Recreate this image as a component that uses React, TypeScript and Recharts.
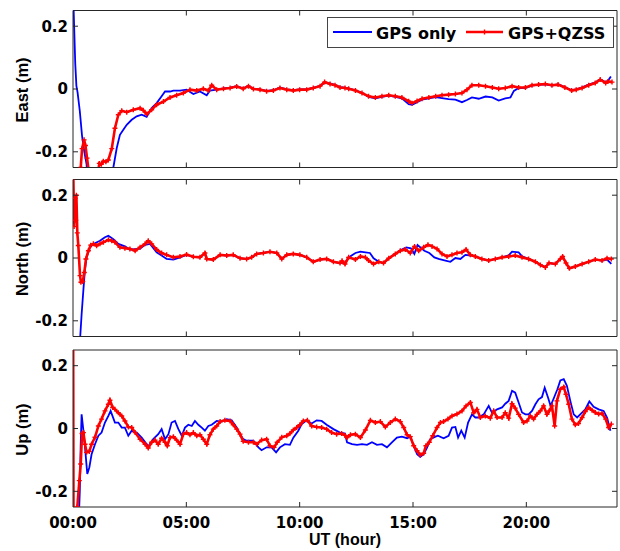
import { Legend, Line, LineChart, ReferenceLine, XAxis, YAxis } from "recharts";

// hours (UT) and displacement in metres
const eastGps: [number, number][] = [
  [0, 0.32], [0.05, 0.2], [0.1, 0.08], [0.15, 0.01], [0.2, -0.01], [0.3, -0.07], [0.4, -0.15],
  [0.5, -0.2], [0.6, -0.24], [0.7, -0.4], [1.5, -0.4], [1.7, -0.3], [1.78, -0.25], [1.93, -0.188],
  [2.07, -0.146], [2.22, -0.13], [2.37, -0.114], [2.59, -0.098], [2.81, -0.087], [3.03, -0.082],
  [3.25, -0.089], [3.47, -0.061], [3.69, -0.045], [3.91, -0.023], [4.06, -0.008], [4.28, -0.008],
  [4.43, -0.005], [4.72, -0.005], [5.01, -0.002], [5.31, -0.016], [5.6, -0.008], [5.9, -0.02],
  [6.04, -0.005], [6.34, -0.002], [6.64, 0.002], [6.93, 0.004], [7.22, 0.009], [7.51, 0.002],
  [7.74, 0.01], [7.96, 0.001], [8.25, -0.001], [8.54, -0.006], [8.84, -0.004], [9.13, 0.005],
  [9.43, -0.001], [9.72, -0.004], [10.0, -0.001], [10.31, -0.001], [10.6, 0.004], [10.9, 0.01],
  [11.1, 0.02], [11.34, 0.018], [11.56, 0.013], [11.78, 0.006], [12.0, 0.004], [12.16, 0.002],
  [12.46, -0.004], [12.75, -0.012], [13.04, -0.025], [13.34, -0.03], [13.63, -0.025], [13.93, -0.021],
  [14.22, -0.025], [14.51, -0.03], [14.81, -0.048], [14.96, -0.05], [15.18, -0.042], [15.4, -0.034],
  [15.7, -0.03], [16.0, -0.026], [16.28, -0.029], [16.57, -0.032], [16.87, -0.034], [17.16, -0.042],
  [17.38, -0.035], [17.6, -0.027], [17.9, -0.031], [18.2, -0.024], [18.5, -0.027], [18.78, -0.037],
  [19.07, -0.03], [19.3, -0.027], [19.45, -0.006], [19.66, 0.003], [19.96, 0.004], [20.25, 0.011],
  [20.54, 0.014], [20.84, 0.015], [21.13, 0.011], [21.4, 0.015], [21.7, 0.006], [22.0, -0.004],
  [22.2, -0.001], [22.46, 0.005], [22.75, 0.014], [23.04, 0.021], [23.26, 0.03], [23.5, 0.022],
  [23.6, 0.026], [23.73, 0.04],
];

const eastQzss: [number, number][] = [
  [0, -0.5], [0.25, -0.3], [0.34, -0.25], [0.4, -0.19], [0.49, -0.162], [0.55, -0.18], [0.62, -0.22],
  [0.69, -0.26], [0.8, -0.4], [1.0, -0.4], [1.1, -0.27], [1.16, -0.237], [1.25, -0.24], [1.34, -0.23],
  [1.45, -0.232], [1.56, -0.226], [1.71, -0.19], [1.85, -0.125], [2.0, -0.082], [2.15, -0.069],
  [2.37, -0.074], [2.66, -0.066], [2.96, -0.061], [3.1, -0.068], [3.25, -0.08], [3.47, -0.066],
  [3.69, -0.05], [3.99, -0.04], [4.28, -0.027], [4.57, -0.02], [4.87, -0.013], [5.16, -0.002],
  [5.46, -0.005], [5.75, 0.001], [5.97, -0.005], [6.12, 0.012], [6.34, -0.002], [6.64, 0.001],
  [6.93, 0.003], [7.22, 0.008], [7.51, 0.001], [7.74, 0.009], [7.96, 0.0], [8.25, -0.002],
  [8.54, -0.007], [8.84, -0.005], [9.13, 0.003], [9.43, -0.002], [9.72, -0.005], [10.0, -0.002],
  [10.31, -0.002], [10.6, 0.003], [10.9, 0.009], [11.1, 0.022], [11.34, 0.016], [11.56, 0.012],
  [11.78, 0.005], [12.0, 0.003], [12.16, 0.001], [12.46, -0.005], [12.75, -0.013], [13.04, -0.023],
  [13.34, -0.027], [13.63, -0.023], [13.93, -0.02], [14.22, -0.023], [14.51, -0.027], [14.81, -0.039],
  [14.96, -0.045], [15.18, -0.038], [15.4, -0.031], [15.7, -0.027], [16.0, -0.023], [16.28, -0.02],
  [16.57, -0.018], [16.87, -0.016], [17.16, -0.013], [17.38, -0.002], [17.6, 0.012], [17.9, 0.012],
  [18.2, 0.009], [18.5, 0.005], [18.78, 0.001], [19.07, 0.003], [19.37, 0.009], [19.66, 0.005],
  [19.96, 0.005], [20.25, 0.012], [20.54, 0.014], [20.84, 0.016], [21.13, 0.012], [21.4, 0.014],
  [21.7, 0.005], [22.0, -0.005], [22.2, -0.002], [22.46, 0.003], [22.75, 0.012], [23.04, 0.019],
  [23.26, 0.03], [23.5, 0.019], [23.6, 0.024], [23.78, 0.022],
];

const northGps: [number, number][] = [
  [0, -0.6], [0.25, -0.4], [0.31, -0.26], [0.38, -0.18], [0.46, -0.1], [0.53, -0.035], [0.6, 0.002],
  [0.75, 0.034], [0.9, 0.045], [1.19, 0.055], [1.41, 0.066], [1.56, 0.071], [1.78, 0.06], [2.0, 0.045],
  [2.29, 0.037], [2.51, 0.027], [2.96, 0.03], [3.18, 0.042], [3.4, 0.045], [3.69, 0.018], [3.91, 0.008],
  [4.13, -0.003], [4.43, -0.005], [4.72, 0.002], [5.01, 0.01], [5.31, 0.004], [5.6, 0.002],
  [5.82, 0.016], [5.9, -0.003], [6.19, -0.005], [6.49, 0.01], [6.78, 0.008], [7.07, 0.01],
  [7.37, -0.001], [7.66, -0.003], [7.88, 0.002], [8.1, 0.013], [8.4, 0.016], [8.69, 0.02],
  [8.99, 0.016], [9.21, -0.003], [9.43, 0.01], [9.72, 0.013], [10.01, 0.01], [10.31, 0.002],
  [10.6, -0.012], [10.9, -0.005], [11.19, -0.003], [11.49, -0.012], [11.78, -0.016], [12.0, -0.015],
  [12.16, 0.002], [12.46, 0.016], [12.68, 0.02], [12.9, 0.018], [13.1, 0.016], [13.26, -0.001],
  [13.49, -0.012], [13.7, -0.016], [13.93, -0.001], [14.22, 0.013], [14.44, 0.025], [14.7, 0.034],
  [14.91, 0.031], [15.06, 0.013], [15.2, 0.041], [15.5, 0.023], [15.72, 0.016], [15.94, 0.002],
  [16.13, -0.003], [16.43, -0.008], [16.65, -0.012], [16.87, 0.0], [17.09, -0.003], [17.31, 0.01],
  [17.53, 0.008], [17.75, 0.005], [18.04, -0.003], [18.34, -0.008], [18.63, -0.003], [18.93, 0.002],
  [19.22, 0.008], [19.37, 0.02], [19.66, 0.018], [19.81, 0.005], [20.1, -0.003], [20.4, -0.012],
  [20.62, -0.022], [20.84, -0.03], [21.0, -0.016], [21.28, -0.019], [21.5, -0.003], [21.6, 0.005],
  [21.75, -0.016], [21.9, -0.033], [22.16, -0.027], [22.46, -0.019], [22.75, -0.012], [23.04, -0.005],
  [23.34, -0.008], [23.56, -0.005], [23.75, -0.019],
];

const northQzss: [number, number][] = [
  [0, 0.4], [0.015, 0.26], [0.05, 0.1], [0.09, 0.19], [0.12, 0.12], [0.15, 0.2], [0.19, 0.08],
  [0.235, 0.04], [0.31, -0.056], [0.35, -0.077], [0.43, -0.075], [0.5, -0.046], [0.57, -0.003],
  [0.68, 0.023], [0.78, 0.041], [0.9, 0.045], [1.04, 0.039], [1.19, 0.045], [1.34, 0.05],
  [1.56, 0.058], [1.71, 0.055], [1.85, 0.05], [2.07, 0.034], [2.29, 0.031], [2.51, 0.029],
  [2.74, 0.023], [2.96, 0.034], [3.18, 0.045], [3.32, 0.055], [3.47, 0.045], [3.69, 0.027],
  [3.91, 0.016], [4.13, 0.01], [4.43, 0.002], [4.72, 0.005], [5.01, 0.011], [5.31, 0.004],
  [5.6, 0.002], [5.82, 0.016], [5.9, -0.003], [6.19, -0.005], [6.49, 0.01], [6.78, 0.008],
  [7.07, 0.01], [7.37, -0.001], [7.66, -0.003], [7.88, 0.002], [8.1, 0.013], [8.4, 0.016],
  [8.69, 0.02], [8.99, 0.016], [9.21, -0.003], [9.43, 0.01], [9.72, 0.013], [10.01, 0.01],
  [10.31, 0.002], [10.6, -0.012], [10.9, -0.005], [11.19, -0.003], [11.49, -0.012], [11.78, -0.016],
  [11.87, -0.009], [12.0, -0.019], [12.16, 0.002], [12.46, -0.005], [12.68, 0.005], [12.9, 0.002],
  [13.04, -0.008], [13.26, -0.019], [13.49, -0.012], [13.7, -0.016], [13.93, -0.001], [14.22, 0.013],
  [14.44, 0.023], [14.66, 0.027], [14.88, 0.016], [15.07, 0.037], [15.25, 0.023], [15.47, 0.034],
  [15.66, 0.042], [15.84, 0.037], [16.06, 0.029], [16.28, 0.013], [16.5, 0.005], [16.72, 0.01],
  [16.94, 0.016], [17.16, 0.018], [17.34, 0.027], [17.53, 0.01], [17.75, 0.005], [18.04, -0.003],
  [18.34, -0.008], [18.63, -0.003], [18.93, 0.002], [19.22, 0.005], [19.51, 0.008], [19.81, 0.002],
  [20.1, -0.003], [20.4, -0.012], [20.62, -0.022], [20.84, -0.03], [21.0, -0.016], [21.28, -0.019],
  [21.5, -0.003], [21.6, 0.005], [21.75, -0.016], [21.9, -0.033], [22.16, -0.027], [22.46, -0.019],
  [22.75, -0.012], [23.04, -0.005], [23.34, -0.008], [23.56, -0.001], [23.75, -0.003],
];

const upGps: [number, number][] = [
  [0, -0.6], [0.25, -0.3], [0.3, -0.2], [0.34, -0.05], [0.38, 0.045], [0.45, 0.0], [0.53, -0.06],
  [0.63, -0.145], [0.72, -0.124], [0.82, -0.082], [0.97, -0.05], [1.12, -0.023], [1.26, -0.013],
  [1.41, 0.019], [1.56, 0.04], [1.66, 0.056], [1.85, 0.019], [2.0, 0.019], [2.15, 0.003],
  [2.29, 0.003], [2.44, -0.023], [2.59, -0.007], [2.81, -0.013], [3.03, -0.029], [3.32, -0.057],
  [3.54, -0.034], [3.76, -0.018], [3.91, -0.002], [4.06, -0.034], [4.21, -0.018], [4.35, 0.019],
  [4.5, 0.024], [4.65, -0.002], [4.8, -0.023], [4.94, 0.003], [5.09, 0.012], [5.24, 0.008],
  [5.38, 0.024], [5.53, 0.012], [5.68, 0.003], [5.82, -0.007], [5.97, 0.008], [6.12, 0.012],
  [6.34, 0.024], [6.56, 0.022], [6.78, 0.03], [7.0, 0.026], [7.22, 0.003], [7.37, -0.018],
  [7.51, -0.034], [7.66, -0.039], [7.96, -0.039], [8.18, -0.06], [8.32, -0.069], [8.54, -0.06],
  [8.76, -0.06], [8.96, -0.076], [9.13, -0.06], [9.35, -0.05], [9.57, -0.052], [9.72, -0.029],
  [9.94, -0.007], [10.09, 0.014], [10.31, 0.026], [10.53, 0.016], [10.75, 0.026], [10.97, 0.024],
  [11.19, 0.012], [11.49, -0.002], [11.78, -0.013], [12.0, -0.016], [12.09, -0.044], [12.31, -0.05],
  [12.53, -0.052], [12.75, -0.05], [12.97, -0.052], [13.19, -0.044], [13.41, -0.052], [13.63, -0.05],
  [13.85, -0.06], [14.07, -0.044], [14.29, -0.029], [14.51, -0.026], [14.74, -0.031], [14.88, -0.026],
  [15.03, -0.055], [15.18, -0.082], [15.32, -0.09], [15.47, -0.082], [15.62, -0.061], [15.76, -0.034],
  [15.99, -0.026], [16.1, -0.023], [16.35, -0.031], [16.57, -0.023], [16.72, 0.003], [16.87, 0.005],
  [16.99, -0.029], [17.13, -0.007], [17.28, -0.029], [17.43, 0.019], [17.6, 0.045], [17.75, 0.035],
  [17.9, 0.035], [18.12, 0.045], [18.34, 0.072], [18.49, 0.05], [18.71, 0.061], [18.93, 0.067],
  [19.07, 0.079], [19.22, 0.088], [19.37, 0.12], [19.51, 0.114], [19.66, 0.083], [19.81, 0.051],
  [19.96, 0.045], [20.1, 0.045], [20.25, 0.056], [20.4, 0.077], [20.54, 0.093], [20.69, 0.1],
  [20.81, 0.13], [20.96, 0.098], [21.07, 0.072], [21.22, 0.098], [21.37, 0.125], [21.5, 0.153],
  [21.65, 0.157], [21.79, 0.136], [21.94, 0.088], [22.09, 0.045], [22.24, 0.035], [22.38, 0.045],
  [22.6, 0.061], [22.78, 0.086], [22.97, 0.069], [23.19, 0.061], [23.41, 0.056], [23.56, 0.035],
  [23.71, -0.007],
];

const upQzss: [number, number][] = [
  [0, 0.6], [0.03, -0.6], [0.15, -0.35], [0.19, -0.25], [0.28, -0.166], [0.34, -0.113], [0.4, -0.016],
  [0.46, -0.013], [0.53, -0.05], [0.6, -0.076], [0.72, -0.073], [0.82, -0.05], [0.97, -0.028],
  [1.12, 0.008], [1.26, 0.03], [1.41, 0.056], [1.56, 0.077], [1.63, 0.09], [1.75, 0.067],
  [1.85, 0.061], [2.0, 0.05], [2.15, 0.04], [2.29, 0.024], [2.44, 0.005], [2.59, 0.003],
  [2.74, -0.013], [2.96, -0.034], [3.18, -0.05], [3.32, -0.062], [3.47, -0.044], [3.62, -0.037],
  [3.76, -0.05], [3.91, -0.031], [4.06, -0.044], [4.16, -0.055], [4.28, -0.029], [4.43, -0.026],
  [4.57, -0.037], [4.72, -0.05], [4.87, -0.018], [5.01, -0.013], [5.16, -0.02], [5.31, -0.013],
  [5.46, -0.023], [5.6, -0.02], [5.75, -0.034], [5.9, -0.05], [6.04, -0.02], [6.19, -0.002],
  [6.34, 0.008], [6.49, 0.022], [6.7, 0.026], [6.93, 0.024], [7.07, 0.012], [7.22, -0.002],
  [7.37, -0.018], [7.51, -0.041], [7.74, -0.044], [7.96, -0.044], [8.1, -0.05], [8.32, -0.037],
  [8.54, -0.034], [8.69, -0.055], [8.87, -0.06], [9.01, -0.044], [9.21, -0.028], [9.43, -0.023],
  [9.57, -0.016], [9.72, -0.005], [9.87, 0.003], [10.01, 0.012], [10.16, 0.024], [10.34, 0.026],
  [10.53, 0.008], [10.75, 0.005], [10.97, 0.003], [11.19, -0.002], [11.41, -0.013], [11.63, -0.018],
  [11.85, -0.016], [12.0, -0.022], [12.09, -0.029], [12.24, -0.02], [12.46, -0.018], [12.68, -0.029],
  [12.9, -0.005], [13.12, 0.026], [13.34, 0.019], [13.56, 0.022], [13.78, 0.005], [14.0, 0.019],
  [14.22, 0.03], [14.44, 0.022], [14.59, 0.003], [14.74, -0.02], [14.88, -0.026], [15.03, -0.055],
  [15.18, -0.071], [15.32, -0.084], [15.47, -0.079], [15.57, -0.055], [15.72, -0.044], [15.87, -0.023],
  [16.06, 0.003], [16.21, 0.019], [16.35, 0.022], [16.54, 0.03], [16.72, 0.04], [16.94, 0.046],
  [17.16, 0.056], [17.34, 0.072], [17.53, 0.083], [17.68, 0.05], [17.82, 0.061], [17.97, 0.035],
  [18.19, 0.04], [18.41, 0.033], [18.56, 0.056], [18.71, 0.035], [18.93, 0.035], [19.07, 0.05],
  [19.22, 0.033], [19.37, 0.079], [19.51, 0.065], [19.66, 0.045], [19.88, 0.019], [20.03, 0.024],
  [20.18, 0.04], [20.32, 0.03], [20.47, 0.045], [20.62, 0.056], [20.76, 0.072], [20.91, 0.045],
  [21.01, 0.056], [21.13, 0.072], [21.25, 0.008], [21.35, 0.088], [21.5, 0.125], [21.65, 0.132],
  [21.75, 0.109], [21.87, 0.077], [22.01, 0.03], [22.16, 0.012], [22.3, 0.016], [22.46, 0.035],
  [22.6, 0.054], [22.75, 0.067], [22.9, 0.058], [23.04, 0.051], [23.19, 0.046], [23.34, 0.048],
  [23.5, 0.03], [23.63, 0.003], [23.75, 0.014],
];

const hourTicks = [0, 5, 10, 15, 20];
const metreTicks = [-0.2, 0, 0.2];

const PLOT_LEFT = 73;
const PLOT_RIGHT = 617;
const PLOT_H = 157;
const FRAME = "#262626";
const BLUE = "#0000ff";
const RED = "#ff0000";
const tickFont = { fontFamily: "'DejaVu Sans', sans-serif", fontWeight: 700, fontSize: 15 };
const titleFont = { fontFamily: "'Liberation Sans', Arial, sans-serif", fontWeight: 700 };

const toPoints = (arr: [number, number][]) => arr.map(([t, v]) => ({ t, v }));
const fmtHour = (h: number) => `${String(h).padStart(2, "0")}:00`;
const fmtMetre = (m: number) => (m === 0 ? "0" : String(m));

const plusDot = (props: any) => {
  const { cx, cy, index } = props;
  if (cx == null || cy == null) return null;
  return (
    <path
      key={`p${index}`}
      d={`M${cx - 2.5},${cy}h5M${cx},${cy - 2.5}v5`}
      stroke={RED}
      strokeWidth={1.4}
      fill="none"
    />
  );
};

function LegendBox() {
  return (
    <svg width={288} height={32} style={{ display: "block" }}>
      <rect x={0.5} y={0.5} width={286} height={30} fill="#fff" stroke="#444" />
      <line x1={6} x2={45} y1={15} y2={15} stroke={BLUE} strokeWidth={1.8} />
      <text x={49} y={21.5} {...tickFont} fontSize={16}>
        GPS only
      </text>
      <line x1={139} x2={176} y1={15} y2={15} stroke={RED} strokeWidth={2.4} />
      <path d="M155,15h5M157.5,12.5v5" stroke={RED} strokeWidth={1.4} />
      <text x={181} y={21.5} {...tickFont} fontSize={16}>
        GPS+QZSS
      </text>
    </svg>
  );
}

type PanelProps = {
  top: number;
  padTop: number;
  padBottom: number;
  title: string;
  gps: [number, number][];
  qzss: [number, number][];
  showHours?: boolean;
  showLegend?: boolean;
};

function Panel({ top, padTop, padBottom, title, gps, qzss, showHours, showLegend }: PanelProps) {
  const height = padTop + PLOT_H + padBottom;

  const leftTick = (props: any) => {
    const { x, y, payload } = props;
    return (
      <g>
        <text x={x} y={y} dy="0.36em" textAnchor="end" fill="#000" {...tickFont}>
          {fmtMetre(payload.value)}
        </text>
        <line x1={PLOT_LEFT} x2={PLOT_LEFT + 5} y1={y} y2={y} stroke={FRAME} />
        <line x1={PLOT_RIGHT - 5} x2={PLOT_RIGHT} y1={y} y2={y} stroke={FRAME} />
      </g>
    );
  };

  const bottomTick = (props: any) => {
    const { x, y, payload } = props;
    const edge = payload.value === 0;
    return (
      <g>
        {showHours && (
          <text x={x} y={y + 21} textAnchor="middle" fill="#000" {...tickFont}>
            {fmtHour(payload.value)}
          </text>
        )}
        {!edge && <line x1={x} x2={x} y1={y} y2={y - 5} stroke={FRAME} />}
        {!edge && <line x1={x} x2={x} y1={padTop} y2={padTop + 5} stroke={FRAME} />}
      </g>
    );
  };

  return (
    <div style={{ position: "absolute", left: 0, top }}>
      <LineChart
        width={620}
        height={height}
        margin={{ top: padTop, right: 620 - PLOT_RIGHT, bottom: 0, left: 0 }}
      >
        <XAxis
          type="number"
          dataKey="t"
          domain={[0, 24]}
          ticks={hourTicks}
          interval={0}
          allowDataOverflow
          height={padBottom}
          tickSize={0}
          tickMargin={0}
          tickLine={false}
          axisLine={{ stroke: FRAME }}
          tick={bottomTick}
          label={
            showHours
              ? {
                  content: () => (
                    <text x={345} y={padTop + PLOT_H + 38} textAnchor="middle" fill="#000" {...titleFont} fontSize={16}>
                      UT (hour)
                    </text>
                  ),
                }
              : undefined
          }
        />
        <YAxis
          type="number"
          domain={[-0.25, 0.25]}
          ticks={metreTicks}
          interval={0}
          allowDataOverflow
          width={PLOT_LEFT}
          tickSize={0}
          tickMargin={5}
          tickLine={false}
          axisLine={{ stroke: FRAME }}
          tick={leftTick}
          label={{
            content: () => (
              <text
                transform={`translate(22.5, ${padTop + PLOT_H / 2 + 1}) rotate(-90)`}
                dy="0.36em"
                textAnchor="middle"
                fill="#000"
                {...titleFont}
                fontSize={16.5}
              >
                {title}
              </text>
            ),
          }}
        />
        <ReferenceLine y={0.25} stroke={FRAME} />
        <ReferenceLine x={24} stroke={FRAME} />
        <Line
          data={toPoints(gps)}
          dataKey="v"
          type="linear"
          stroke={BLUE}
          strokeWidth={1.8}
          dot={false}
          activeDot={false}
          isAnimationActive={false}
        />
        <Line
          data={toPoints(qzss)}
          dataKey="v"
          type="linear"
          stroke={RED}
          strokeWidth={2.6}
          dot={plusDot}
          activeDot={false}
          isAnimationActive={false}
        />
        {showLegend && (
          <Legend
            layout="vertical"
            verticalAlign="middle"
            align="center"
            wrapperStyle={{ position: "absolute", left: 327, top: 17 - top, width: 288, height: 32 }}
            content={() => <LegendBox />}
          />
        )}
      </LineChart>
    </div>
  );
}

export default function App() {
  return (
    <div style={{ position: "absolute", left: 0, top: 0, width: 620, height: 551, background: "#fff" }}>
      <Panel top={0} padTop={10.5} padBottom={5.5} title="East (m)" gps={eastGps} qzss={eastQzss} showLegend />
      <Panel top={170} padTop={9.5} padBottom={5.5} title="North (m)" gps={northGps} qzss={northQzss} />
      <Panel top={340} padTop={10} padBottom={44} title="Up (m)" gps={upGps} qzss={upQzss} showHours />
    </div>
  );
}
